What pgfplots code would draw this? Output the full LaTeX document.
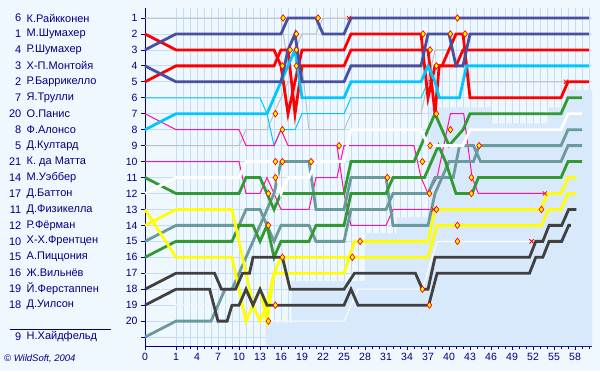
\documentclass[border=0pt]{standalone}
\usepackage{pgfplots}
\pgfplotsset{compat=1.18}
\usepackage{fontspec}
\setmainfont{Liberation Sans}
\definecolor{bg}{HTML}{EFF7FF}
\definecolor{shade}{HTML}{D8E9FB}
\definecolor{gridc}{HTML}{C4DCF5}
\definecolor{navytxt}{HTML}{000080}
\definecolor{cnavy}{HTML}{4850A0}
\definecolor{cred}{HTML}{FF0000}
\definecolor{ccyan}{HTML}{00C8FF}
\definecolor{cgray}{HTML}{C0C0C0}
\definecolor{cmag}{HTML}{FF10A0}
\definecolor{cgreen}{HTML}{339933}
\definecolor{cyel}{HTML}{FFFF00}
\definecolor{cslate}{HTML}{6A9A9C}
\definecolor{cdark}{HTML}{404040}
\tikzset{thk/.style={line width=2.8bp},thn/.style={line width=1bp}}
\begin{document}
\begin{tikzpicture}[x=1bp,y=1bp]
\fill[bg] (0,0) rectangle (600,371);
% names
\begin{scope}[font=\fontsize{11bp}{12bp}\selectfont, text=navytxt]
\foreach \n/\name [count=\i] in {6/К.Райкконен,1/М.Шумахер,4/Р.Шумахер,3/Х-П.Монтойя,2/Р.Баррикелло,7/Я.Трулли,20/О.Панис,8/Ф.Алонсо,5/Д.Култард,21/К. да Матта,14/М.Уэббер,17/Д.Баттон,11/Д.Физикелла,12/Р.Фёрман,10/Х-Х.Френтцен,15/А.Пиццония,16/Ж.Вильнёв,19/Й.Ферстаппен,18/Д.Уилсон}{
  \node[anchor=east,inner sep=0] at (21.5,{371-18-15.95*(\i-1)}) {\n};
  \node[anchor=west,inner sep=0] at (26.5,{371-18-15.95*(\i-1)}) {\name};
}
\node[anchor=east,inner sep=0] at (21.5,34) {9};
\node[anchor=west,inner sep=0] at (26.5,34) {Н.Хайдфельд};
\end{scope}
\draw[navytxt,line width=0.8bp] (10,42) -- (111,42);
\node[anchor=west,inner sep=0,text=navytxt,font=\fontsize{9.5bp}{10bp}\selectfont\itshape] at (4,12) {© WildSoft, 2004};
\begin{axis}[
  at={(145bp,25bp)}, anchor=south west,
  scale only axis, width=447bp, height=338bp,
  xmin=-3.43, xmax=60.43, ymin=0.373, ymax=21.56, y dir=reverse,
  axis x line*=bottom, axis y line*=left,
  axis line style={navytxt, line width=1bp},
  xtick={-3.43,1,4,7,10,13,16,19,22,25,28,31,34,37,40,43,46,49,52,55,58},
  xticklabels={0,1,4,7,10,13,16,19,22,25,28,31,34,37,40,43,46,49,52,55,58},
  minor xtick={2,3,...,60},
  ytick={1,2,...,21}, yticklabels={1,2,3,4,5,6,7,8,9,10,11,12,13,14,15,16,17,18,19,20,{}},
  grid=both, major grid style={gridc,line width=0.8bp}, minor grid style={gridc,line width=0.8bp},
  tick align=outside, major tick length=4bp, minor tick length=3bp,
  tick style={navytxt, line width=0.8bp},
  ticklabel style={font=\fontsize{10.5bp}{12bp}\selectfont, text=navytxt},
  /pgf/number format/assume math mode=true,
  clip=false,
]
% lapped-region shading
\addplot[draw=none, fill=shade, forget plot] coordinates {
 (13.8,21.56) (13.8,20.1) (17.5,20.1) (17.5,17.5) (28,17.5) (28,14.5) (32.5,14.5) (32.5,13.5) (37.3,13.5) (37.3,6.6) (46,6.6) (46,7.6) (54,7.6) (54,6.6) (56.7,6.6) (56.7,5.5) (60.43,5.5) (60.43,21.56) (13.8,21.56)};
% Raikkonen
\addplot[thn,cgray] coordinates {(-3.43,1)(16,1)(17,4)(18,3)(19,2)(21,2)(22,1)(25.7,1)};
% Coulthard
\addplot[thn,cgray] coordinates {(-3.43,9)(10,9)(11,8)(14,8)(15,7)(16,6)(17,5)(18,5)(19,4)(20,8)(25,8)(26,7)(36,7)(37,5)(38,3)(40,3)(41,2)(42,2)(43,5)(56.7,5)};
% Trulli
\addplot[thn,ccyan] coordinates {(-3.43,6)(13,6)(14,7)(15,9)(16,8)(18,8)(19,7)(25,7)(26,6)(36,6)(37,5)(37.4,5)};
% Panis
\addplot[thn,cmag] coordinates {(-3.43,7)(1,8)(10,8)(11,9)(15,9)(16,8)(17,9)(24,9)(25,12)(26,14)(31,14)(32,13)(37.8,13)};
% da Matta
\addplot[thn,cmag] coordinates {(-3.43,10)(10,10)(11,12)(13,12)(14,11)(15,12)(16,13)(20,13)(21,11)(24,11)(25,9)(35,9)(36,11)(37,12)(38.3,11)(40.2,7)(42.1,7)(43.3,11)(44.2,12)(53.7,12)};
% Villeneuve
\addplot[thn,white] coordinates {(-3.43,17)(1,19)(13.5,19)(14.2,20)(25,20)(27,18)(36.2,18)(38.3,15)(51.8,15)};
% Heidfeld
\addplot[thk,cslate] coordinates {(-3.43,21)(1,20)(6,20)(7,19)(8,18)(9,18)(10,17)(11,16)(12,15)(13,14)(14,13)(15,12)(16,10)(20,10)(21,13)(25,13)(26,11)(31,11)(32,14)(37,14)(38,12)(39,11)(40,10)(43.5,10)(44.3,9)(56,9)(57,8)(59,8)};
% Frentzen
\addplot[thk,cslate] coordinates {(-3.43,15)(1,14)(9,14)(10,14)(11,13)(13,13)(14,14)(15,15)(16,14)(20,14)(21,15)(25,15)(26,13)(31,13)(32,12)(37,12)(38,11)(40.6,11)(41.5,9)(43.5,9)(44.5,10)(56,10)(57,9)(59,9)};
% Webber
\addplot[thk,cgreen] coordinates {(-3.43,11)(1,12)(10,12)(11,11)(13,11)(14,12)(15,13)(16,12)(25,12)(26,10)(35,10)(36,9)(37,8)(38,7)(39,8)(40,9)(42,8)(43,7)(56,7)(57,6)(59,6)};
% Pizzonia
\addplot[thk,cgreen] coordinates {(-3.43,16)(1,15)(9,15)(10,14)(12,14)(13,15)(14,14)(15,16)(16,15)(20,15)(21,14)(25,14)(26,12)(31,12)(32,11)(36.5,11)(37.5,10)(38.5,9)(39.5,10)(41,12)(43.3,12)(44.2,11)(56,11)(57,10)(59,10)};
% Button
\addplot[thk,white] coordinates {(-3.43,12)(1,11)(10,11)(11,10)(15,10)(16,12)(17,11)(20,11)(21,10)(25,10)(26,8)(36,8)(37,9)(42,9)(43,8)(56,8)(57,7)(59,7)};
% Fisichella
\addplot[thk,cyel] coordinates {(-3.43,13)(1,16)(9,16)(10,18)(11,20)(12,19)(13,20)(14,19)(15,17)(16,16)(26,16)(37,16)(38.3,14)(53.2,14)(54.2,13)(56,13)(57,12)(58.2,12)};
% Firman
\addplot[thk,cyel] coordinates {(-3.43,14)(1,13)(9,13)(10,15)(11,17)(12,19)(13,18)(14,20)(15,17)(25,17)(26.5,15)(37,15)(38,13)(53.1,13)(54.1,12)(56,12)(57,11)(58.2,11)};
% Verstappen
\addplot[thk,cdark] coordinates {(-3.43,18)(1,17)(6.5,17)(7.5,18)(9.5,18)(10.5,17)(11.5,17)(12,16)(16.2,16)(17.3,18)(25,18)(26.5,17)(35.2,17)(36.2,18)(37,18)(38,16)(51.5,16)(52.4,15)(53.4,15)(54.3,14)(56.1,14)(57.1,13)(58.2,13)};
% Wilson
\addplot[thk,cdark] coordinates {(-3.43,19)(1,18)(5.8,18)(7,20)(8.3,20)(9,19)(10,19)(11,18)(12,19)(13,18)(14,19)(15.2,19)(25,19)(26,18)(27,19)(37.1,19)(38.3,17)(51.5,17)(52.4,16)(53.4,16)(54.3,15)(56.1,15)(57.1,14)(57.4,14)};
% M.Schumacher
\addplot[thk,cred] coordinates {(-3.43,2)(1,3)(15,3)(16,4)(17,7)(18,5)(19,3)(25,3)(26,2)(36,2)(37,6)(38,4)(39,4)(40,3)(41,2)(42,2)(43,6)(56,6)(57,5)(60,5)};
% Barrichello
\addplot[thk,cred] coordinates {(-3.43,5)(1,4)(15,4)(16,3)(17,3)(18,7)(19,4)(25,4)(26,3)(37,3)(38,7)(38.6,4)(41,4)(42,3)(60,3)};
% Alonso
\addplot[thk,ccyan] coordinates {(-3.43,8)(1,7)(14,7)(15,6)(16,5)(17,4)(18,3)(19,6)(25,6)(26,5)(36,5)(37,4)(38,5)(38.6,6)(41.5,6)(42.5,4)(60,4)};
% Montoya
\addplot[thk,cnavy] coordinates {(-3.43,4)(1,5)(16,5)(17,3)(18,2)(19,5)(25,5)(26,4)(36,4)(37,2)(40,2)(41,4)(42,4)(43,2)(60,2)};
% R.Schumacher
\addplot[thk,cnavy] coordinates {(-3.43,3)(1,2)(16,2)(17,1)(21,1)(22,2)(25,2)(26,1)(60,1)};
% pit stops
\addplot[only marks, mark=diamond*, mark size=3.2bp, mark options={fill=cyel, draw=cred, line width=0.7bp}] coordinates {
(16.3,1)(21.3,1)(18.2,2)(17.3,3)(18.2,3)(16.2,4)(18.2,4)(15.2,7)(16.2,8)(24.3,9)(15.2,10)(16.2,10)(20.3,10)(15.2,11)(14.2,12)(14.2,14)(27.3,15)(16.2,16)(26.2,16)(15.2,19)(14.2,20)
(41.2,1)(36.3,2)(40.2,2)(42.3,2)(37.3,3)(38.2,4)(38.2,7)(40.2,8)(37.3,9)(44.3,9)(36.2,10)(31.2,11)(43.2,11)(37.2,12)(43.2,12)(38.2,13)(53.2,13)(41.2,14)(41.2,15)(36.2,18)(37.2,19)};
% retirements
\addplot[only marks, mark=x, mark size=3bp, cred, line width=0.8bp] coordinates {(25.7,1)(56.7,5)(53.7,12)(51.8,15)(37.8,13)(37.4,5)};
\end{axis}
\end{tikzpicture}
\end{document}
